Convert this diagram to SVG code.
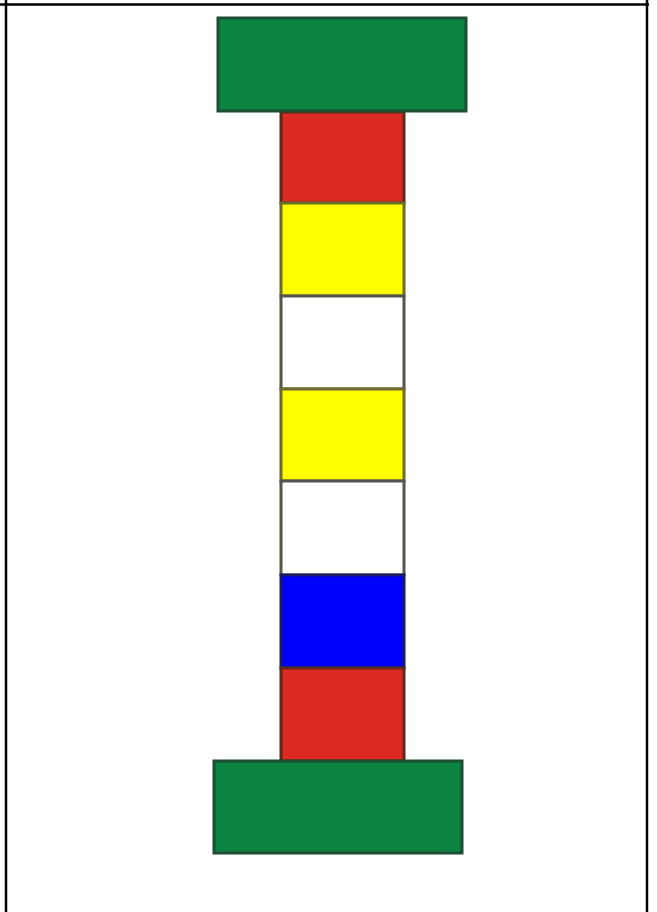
<svg xmlns="http://www.w3.org/2000/svg" width="657" height="912" viewBox="0 0 657 912">
<style>
.seg{stroke-width:3}
.red{fill:#dc2a22;stroke:#5a2a1a}
.yellow{fill:#ffff00;stroke:#6b6b2a}
.white{fill:#ffffff;stroke:#55554d}
.blue{fill:#0000ff;stroke:#1a1a60}
.cap{fill:#0b8441;stroke:#1d4d32;stroke-width:3}
.frame{stroke:#000;stroke-width:2.5;fill:none}
</style>
<rect width="657" height="912" fill="#fff"/>
<g id="frame">
<line class="frame" x1="0" y1="4.5" x2="649" y2="4.5"/>
<line class="frame" x1="6" y1="0" x2="6" y2="912"/>
<line class="frame" x1="647" y1="0" x2="647" y2="912"/>
</g>
<g id="column">
<rect id="red-top" class="seg red" x="281" y="112" width="123" height="91"/>
<rect id="yellow-1" class="seg yellow" x="281" y="203" width="123" height="93"/>
<rect id="white-1" class="seg white" x="281" y="296" width="123" height="93"/>
<rect id="yellow-2" class="seg yellow" x="281" y="389" width="123" height="92"/>
<rect id="white-2" class="seg white" x="281" y="481" width="123" height="94"/>
<rect id="blue" class="seg blue" x="281" y="575" width="123" height="93"/>
<rect id="red-bottom" class="seg red" x="281" y="668" width="123" height="93"/>
</g>
<g id="cap-top"><rect class="cap" x="218" y="18" width="248" height="93"/></g>
<g id="cap-bottom"><rect class="cap" x="214" y="761" width="248" height="92"/></g>
<g id="connectors"></g>
</svg>
